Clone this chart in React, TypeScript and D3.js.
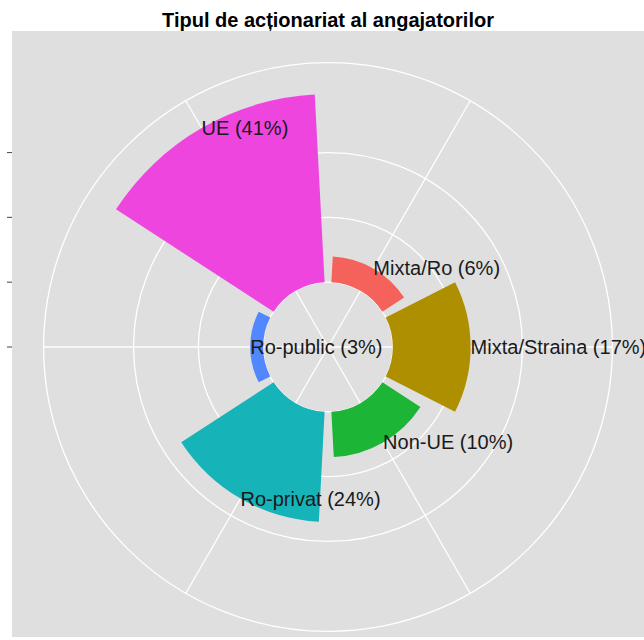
import React from "react";
import * as d3 from "d3";

// ---- data ----
const title = "Tipul de acționariat al angajatorilor";
const categories = ["Mixta/Ro", "Mixta/Straina", "Non-UE", "Ro-privat", "Ro-public", "UE"];
const counts = [4, 12, 7, 17, 2, 29];
const percentLabels = ["6%", "17%", "10%", "24%", "3%", "41%"];
const colors = ["#F5625C", "#AE8F00", "#1CB536", "#16B3B9", "#5187FF", "#EF45DF"];
const yBreaks = [-10, 0, 10, 20];
const yDomain: [number, number] = [-10, 29];

export default function App() {
  const W = 644;
  const H = 640;
  const panelX = 12;
  const panelY = 31;
  const panelSize = 632;
  const panelH = 606;
  const cx = panelX + panelSize / 2;
  const cy = panelY + panelSize / 2;

  const r = d3.scaleLinear().domain(yDomain).range([0, 0.4 * panelSize]);
  const outerR = 0.45 * panelSize;
  const theta = d3
    .scaleBand<string>()
    .domain(categories)
    .range([0, 2 * Math.PI])
    .paddingInner(0.1)
    .paddingOuter(0.05);
  const center = (c: string) => (theta(c) as number) + theta.bandwidth() / 2;

  const arc = d3.arc<any>();
  const gridCircles = [...yBreaks.map((b) => r(b)), outerR];

  return (
    <svg
      width={W}
      height={H}
      style={{ position: "absolute", left: 0, top: 0, background: "#ffffff" }}
      fontFamily="'Liberation Sans', Arial, Helvetica, sans-serif"
    >
      <defs>
        <clipPath id="panelClip">
          <rect x={panelX} y={panelY} width={panelSize} height={panelH} />
        </clipPath>
      </defs>
      <text
        x={cx}
        y={27}
        textAnchor="middle"
        fontSize={20}
        fontWeight="bold"
        fill="#000"
      >
        {title}
      </text>
      <g clipPath="url(#panelClip)">
        <rect x={panelX} y={panelY} width={panelSize} height={panelH} fill="#DFDFDF" />
        <g transform={`translate(${cx},${cy})`}>
          {categories.map((c) => {
            const a = center(c);
            return (
              <line
                key={"sp" + c}
                x1={0}
                y1={0}
                x2={outerR * Math.sin(a)}
                y2={-outerR * Math.cos(a)}
                stroke="#ffffff"
                strokeWidth={1.3}
              />
            );
          })}
          {gridCircles.map((rad, i) => (
            <circle key={"gc" + i} r={rad} fill="none" stroke="#ffffff" strokeWidth={1.3} />
          ))}
          {categories.map((c, i) => (
            <path
              key={"bar" + c}
              d={
                arc({
                  innerRadius: r(0),
                  outerRadius: r(counts[i]),
                  startAngle: theta(c) as number,
                  endAngle: (theta(c) as number) + theta.bandwidth(),
                }) as string
              }
              fill={colors[i]}
            />
          ))}
          {categories.map((c, i) => {
            const a = center(c);
            const rad = r(counts[i]);
            return (
              <text
                key={"lb" + c}
                x={rad * Math.sin(a)}
                y={-rad * Math.cos(a)}
                dominantBaseline="central"
                textAnchor="start"
                fontSize={20}
                fill="#1a1a1a"
              >
                {`${c} (${percentLabels[i]})`}
              </text>
            );
          })}
        </g>
      </g>
      {yBreaks.map((b) => (
        <line
          key={"tk" + b}
          x1={panelX - 5}
          x2={panelX}
          y1={cy - r(b)}
          y2={cy - r(b)}
          stroke="#555"
          strokeWidth={1.1}
        />
      ))}
    </svg>
  );
}
